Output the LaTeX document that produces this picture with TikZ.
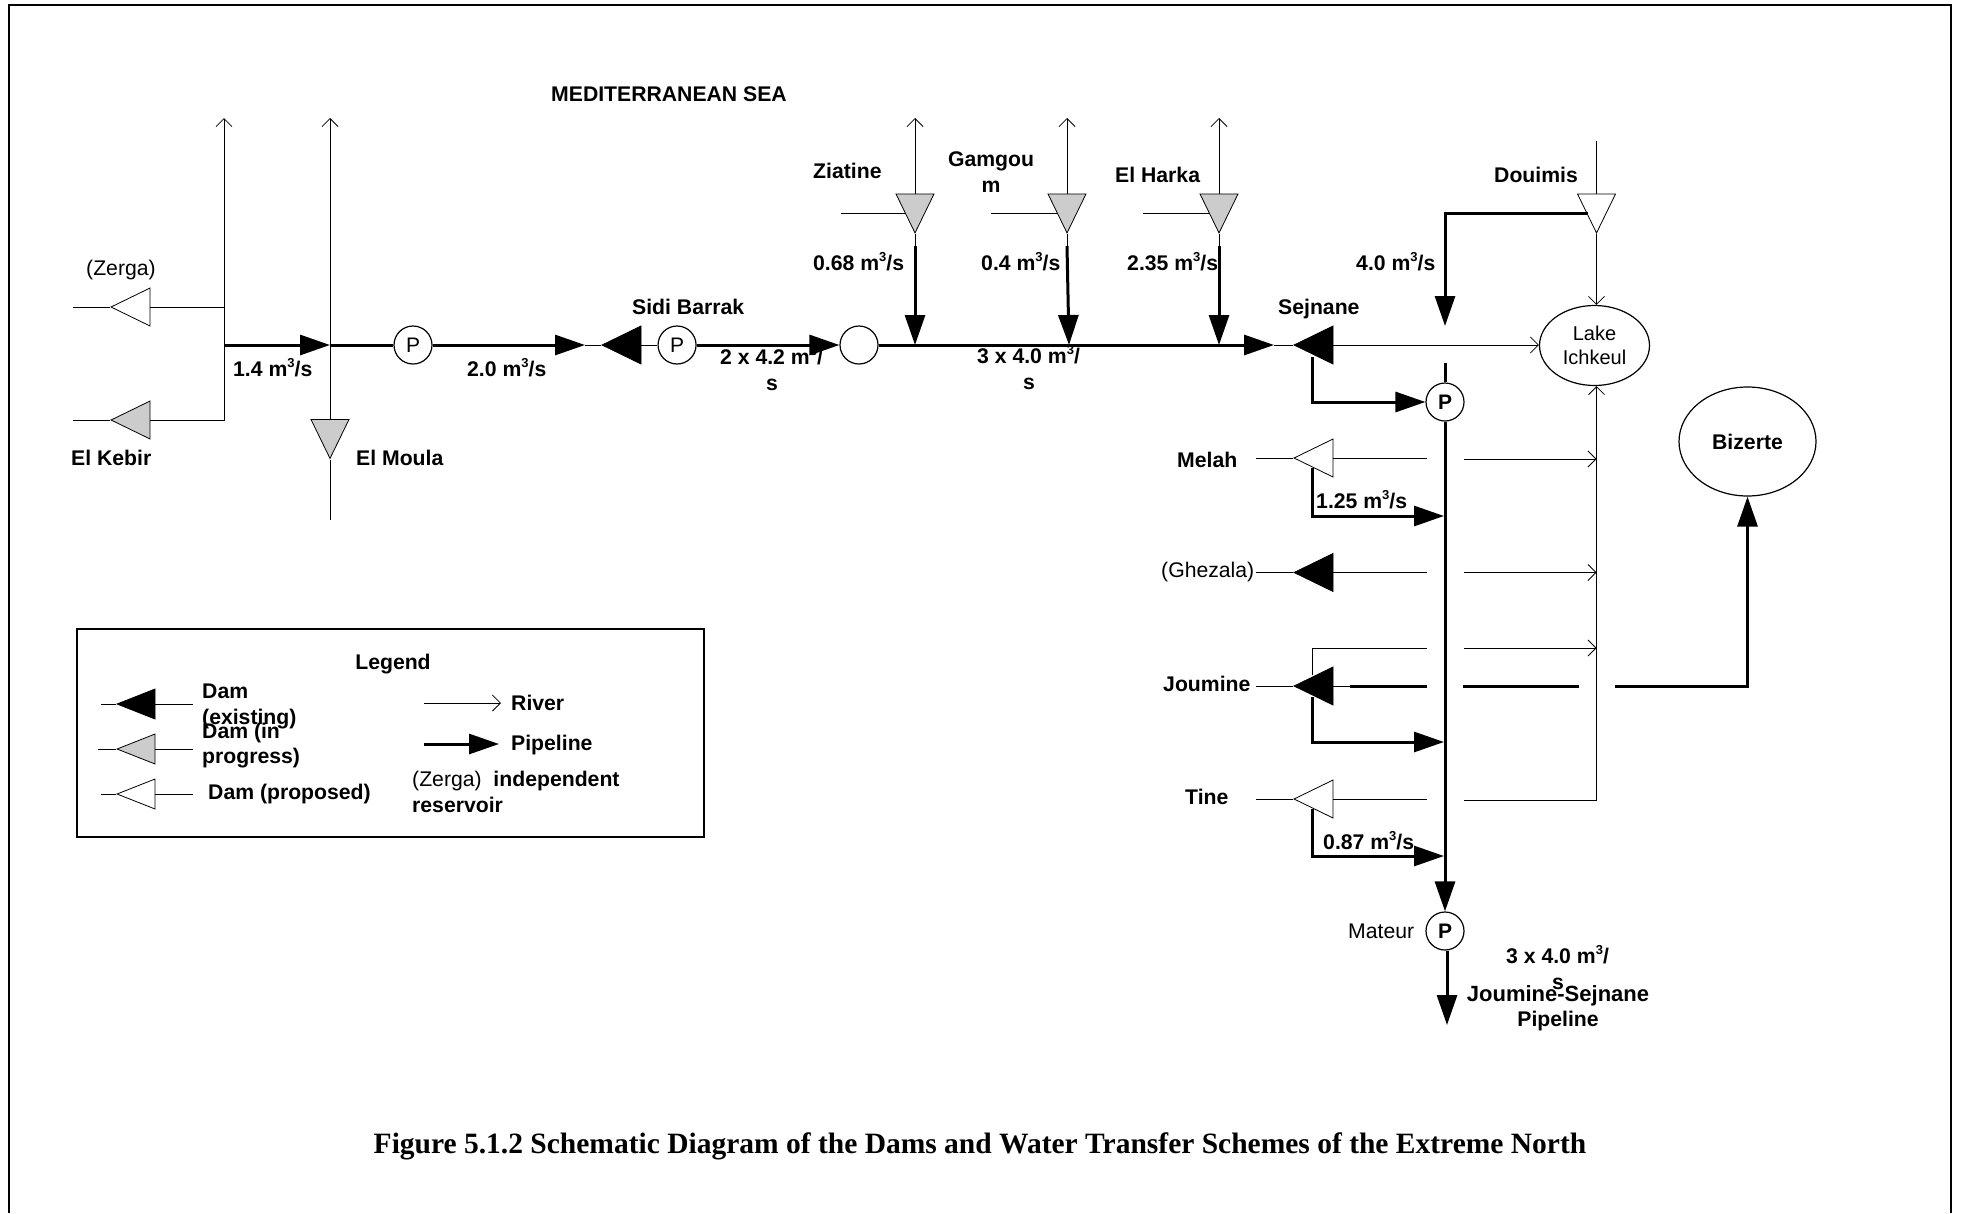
\documentclass[tikz,border=0pt]{standalone}
\usepackage{fontspec}
\setmainfont{Liberation Sans}
\newfontfamily\capfont{Liberation Serif}
\usetikzlibrary{shapes.geometric, arrows.meta, positioning}
\newcommand{\cube}{\raisebox{0.42em}{\fontsize{13}{13}\selectfont 3}}
\begin{document}
\begin{tikzpicture}[x=1pt, y=-1pt,
    dam/.style={isosceles triangle, isosceles triangle stretches, draw, line width=0.8pt, minimum height=39pt, minimum width=38pt, inner sep=0pt, shape border rotate=180, anchor=apex},
    damdown/.style={dam, shape border rotate=270},
    pump/.style={circle, draw, line width=1.2pt, fill=white, minimum size=38pt, inner sep=0pt, font=\fontsize{21}{26}\selectfont},
    tag/.style={inner sep=0pt, font=\fontsize{21.2}{26}\selectfont\bfseries, text height=15pt, text depth=0pt},
    tagline/.style={inner sep=0pt, font=\fontsize{21.2}{26}\selectfont, text height=15pt, text depth=0pt},
    river/.style={line width=0.8pt, -{Straight Barb[length=8pt,width=16pt]}},
    brook/.style={line width=0.8pt},
    pipe/.style={line width=3pt, -{Triangle[length=30pt,width=20pt]}},
    main/.style={line width=3pt}]
    \useasboundingbox (0,0) rectangle (1961,1213);
    \draw[line width=1.6pt] (9,1213) -- (9,5) -- (1951,5) -- (1951,1213);

    % west branch
    \node[dam, fill=white] (zerga) at (110,307) {};
    \node[dam, fill=black!20] (kebir) at (110,420) {};
    \node[damdown, fill=black!20] (moula) at (330,459.5) {};
    \node[pump] (pumpa) at (413,345) {P};
    \node[dam, fill=black] (sidi) at (601,345) {};
    \node[pump, right=16pt of sidi] (pumpsidi) {P};
    \node[pump] (junction) at (859,345) {};
    \coordinate (zergaw) at (73,307);
    \coordinate (zergae) at (224,307);
    \coordinate (kebirw) at (73,420);
    \coordinate (sea) at (224,118);
    \coordinate (seab) at (330,118);
    \coordinate (moulas) at (330,520);
    \coordinate (westa) at (224,345);
    \coordinate (westb) at (330,345);
    \coordinate (westc) at (585,345);
    \draw[brook] (zerga) -- (zergae);
    \draw[brook] (zerga.apex) -- (zergaw);
    \draw[brook] (kebir.apex) -- (kebirw);
    \draw[river] (kebir) -| (sea);
    \draw[river] (moula) -- (seab);
    \draw[brook] (moula.apex) -- (moulas);
    \draw[pipe] (westa) -- (westb);
    \draw[main] (westb) -- (pumpa);
    \draw[pipe] (pumpa) -- (westc);
    \draw[brook] (westc) -- (sidi.apex);
    \draw[brook] (sidi) -- (pumpsidi);
    \draw[pipe] (pumpsidi) -- (junction);

    % north tributaries
    \node[damdown, fill=black!20] (ziatine) at (915,234) {};
    \node[damdown, fill=black!20] (gamgoum) at (1067,234) {};
    \node[damdown, fill=black!20] (harka) at (1219,234) {};
    \node[damdown, fill=white] (douimis) at (1596.5,234) {};
    \node[dam, fill=black] (sejnane) at (1293,345) {};
    \node[ellipse, draw, line width=1.2pt, minimum width=110pt, minimum height=80pt, inner sep=0pt, align=center, font=\fontsize{20}{24}\selectfont] (lake) at (1594.5,345.5) {Lake\\Ichkeul};
    \node[ellipse, draw, line width=1.2pt, minimum width=137pt, minimum height=109pt, inner sep=0pt, font=\fontsize{21.2}{26}\selectfont\bfseries] (bizerte) at (1747.5,441.5) {Bizerte};
    \foreach \dam/\xw/\xt/\xb in {ziatine/841/915/915, gamgoum/991/1067/1069, harka/1143/1219/1219} {
        \coordinate (\dam w) at (\xw,213);
        \coordinate (\dam t) at (\xt,118);
        \coordinate (\dam a) at (\xt,246);
        \coordinate (\dam b) at (\xb,345);
        \draw[brook] (\dam w) -- ([xshift=-10pt]\dam.apex |- \dam w);
        \draw[river] (\dam) -- (\dam t);
        \draw[brook] (\dam.apex) -- (\dam a);
        \draw[pipe] (\dam a) -- (\dam b);
    }
    \coordinate (northa) at (1274,345);
    \coordinate (douimist) at (1596.5,141);
    \coordinate (douimisw) at (1588,213);
    \coordinate (douimisb) at (1445,326);
    \draw[pipe] (junction) -- (northa);
    \draw[brook] (northa) -- (sejnane.apex);
    \draw[river] (sejnane) -- (sejnane -| lake.west);
    \draw[brook] (douimist) -- (douimis);
    \draw[river] (douimis.apex) -- (douimis.apex |- lake.north);
    \draw[pipe] (douimisw) -| (douimisb);

    % main pipeline and eastern dams
    \node[pump, font=\fontsize{21}{26}\selectfont\bfseries] (pumpb) at (1445,402) {P};
    \node[pump, font=\fontsize{21}{26}\selectfont\bfseries] (mateur) at (1445,931) {P};
    \node[dam, fill=white] (melah) at (1293,458) {};
    \node[dam, fill=black] (ghezala) at (1293,572.5) {};
    \node[dam, fill=black] (joumine) at (1293,686) {};
    \node[dam, fill=white] (tine) at (1293,799) {};
    \coordinate (stub) at (1445,363);
    \coordinate (outlet) at (1447,1025);
    \coordinate (sejnanes) at (1312.5,357);
    \coordinate (melahs) at (1312.5,468);
    \coordinate (melahb) at (1444,516);
    \coordinate (jouminep) at (1312.5,697);
    \coordinate (jouminepb) at (1444,742);
    \coordinate (tines) at (1312.5,809);
    \coordinate (tineb) at (1444,856);
    \draw[main] (stub) -- (pumpb);
    \draw[pipe] (pumpb) -- (mateur);
    \draw[pipe] (mateur.south -| outlet) -- (outlet);
    \draw[pipe] (sejnanes) |- (pumpb);
    \draw[pipe] (melahs) |- (melahb);
    \draw[pipe] (jouminep) |- (jouminepb);
    \draw[pipe] (tines) |- (tineb);
    \foreach \dam/\yy/\yr in {melah/458/459, ghezala/572.5/572.5} {
        \coordinate (\dam w) at (1256,\yy);
        \coordinate (\dam e) at (1427,\yy);
        \coordinate (\dam f) at (1464,\yr);
        \coordinate (\dam r) at (1596.5,\yr);
        \draw[brook] (\dam w) -- (\dam.apex);
        \draw[brook] (\dam) -- (\dam e);
        \draw[river] (\dam f) -- (\dam r);
    }
    \coordinate (jouminew) at (1256,686);
    \coordinate (jouminea) at (1350,686);
    \coordinate (jomb) at (1427,686);
    \coordinate (jomc) at (1463,686);
    \coordinate (jomd) at (1579,686);
    \coordinate (jome) at (1615,686);
    \coordinate (joma) at (1312.5,675);
    \coordinate (jomf) at (1427,648);
    \coordinate (jomg) at (1464,648);
    \coordinate (jomh) at (1596.5,648);
    \draw[brook] (jouminew) -- (joumine.apex);
    \draw[brook] (joumine) -- (jouminea);
    \draw[main] (jouminea) -- (jomb);
    \draw[main] (jomc) -- (jomd);
    \draw[pipe] (jome) -| (bizerte);
    \draw[brook] (joma) |- (jomf);
    \draw[river] (jomg) -- (jomh);
    \coordinate (tinew) at (1256,799);
    \coordinate (tinee) at (1427,799);
    \coordinate (tinef) at (1464,800);
    \draw[brook] (tinew) -- (tine.apex);
    \draw[brook] (tine) -- (tinee);
    \draw[river] (tinef) -| (douimis.apex |- lake.south);

    % names and flows
    \node[tag, anchor=west] (seaname) at (551,94) {MEDITERRANEAN SEA};
    \node[tagline, anchor=west] (zerganame) at (86,268) {(Zerga)};
    \node[tag, anchor=west] (kebirname) at (71,458) {El Kebir};
    \node[tag, anchor=west] (moulaname) at (356,458) {El Moula};
    \node[tag, anchor=west] (sidiname) at (632,307) {Sidi Barrak};
    \node[tag, anchor=west] (ziatinename) at (813,171) {Ziatine};
    \node[tag] (gamgouname) at (991,159) {Gamgou};
    \node[tag] (gamgouend) at (991,185) {m};
    \node[tag, anchor=west] (harkaname) at (1115,175) {El Harka};
    \node[tag, anchor=west] (douimisname) at (1494,175) {Douimis};
    \node[tag, anchor=west] (sejnanename) at (1278,307) {Sejnane};
    \node[tag, anchor=west] (melahname) at (1177,460) {Melah};
    \node[tagline, anchor=west] (ghezalaname) at (1161,570) {(Ghezala)};
    \node[tag, anchor=west] (joumineame) at (1163,684) {Joumine};
    \node[tag, anchor=west] (tinename) at (1185,797) {Tine};
    \node[tagline, left=11pt of mateur] (mateurname) {Mateur};
    \node[tag, anchor=west] (flowa) at (233,369) {1.4 m\cube/s};
    \node[tag, anchor=west] (flowb) at (467,369) {2.0 m\cube/s};
    \node[tag, anchor=west] (flowc) at (720,357) {2 x 4.2 m\cube/};
    \node[tag] (flowcend) at (772,383) {s};
    \node[tag, anchor=west] (flowd) at (813,263) {0.68 m\cube/s};
    \node[tag, anchor=west] (flowe) at (981,263) {0.4 m\cube/s};
    \node[tag, anchor=west] (flowf) at (1127,263) {2.35 m\cube/s};
    \node[tag, anchor=west] (flowg) at (1356,263) {4.0 m\cube/s};
    \node[tag, anchor=west] (flowh) at (977,356) {3 x 4.0 m\cube/};
    \node[tag] (flowhend) at (1029,382) {s};
    \node[tag, anchor=west] (flowi) at (1316,501) {1.25 m\cube/s};
    \node[tag, anchor=west] (flowj) at (1323,842) {0.87 m\cube/s};
    \node[tag, anchor=west] (flowk) at (1506,956) {3 x 4.0 m\cube/};
    \node[tag] (flowkend) at (1558,982) {s};
    \node[tag, font=\fontsize{22}{26}\selectfont\bfseries] (pipename) at (1558,994) {Joumine-Sejnane};
    \node[tag] (pipenameb) at (1558,1019) {Pipeline};

    % legend
    \node[draw, line width=1.6pt, minimum width=627pt, minimum height=208pt, inner sep=0pt, anchor=north west] (legend) at (76,628) {};
    \node[tag] (legendname) at (393,662) {Legend};
    \node[dam, fill=black, minimum height=38pt, minimum width=30pt] (legexist) at (116,704) {};
    \node[dam, fill=black!20, minimum height=38pt, minimum width=30pt] (legwork) at (116,749) {};
    \node[dam, fill=white, minimum height=38pt, minimum width=30pt] (legplan) at (116,794) {};
    \coordinate (legexistw) at (101,704);
    \coordinate (legexiste) at (193,704);
    \coordinate (legworkw) at (98,749);
    \coordinate (legworke) at (193,749);
    \coordinate (legplanw) at (101,794);
    \coordinate (legplane) at (193,794);
    \coordinate (legrivera) at (424,703);
    \coordinate (legriverb) at (501,703);
    \coordinate (legpipea) at (424,744);
    \coordinate (legpipeb) at (499,744);
    \draw[brook] (legexistw) -- (legexist.apex);
    \draw[brook] (legexist) -- (legexiste);
    \draw[brook] (legworkw) -- (legwork.apex);
    \draw[brook] (legwork) -- (legworke);
    \draw[brook] (legplanw) -- (legplan.apex);
    \draw[brook] (legplan) -- (legplane);
    \draw[river] (legrivera) -- (legriverb);
    \draw[pipe] (legpipea) -- (legpipeb);
    \node[tag, anchor=west] (legexisttext) at (202,691) {Dam};
    \node[tag, anchor=west] (legexistend) at (202,717) {(existing)};
    \node[tag, anchor=west] (legworktext) at (202,731) {Dam (in};
    \node[tag, anchor=west] (legworkend) at (202,756) {progress)};
    \node[tag, anchor=west] (legplantext) at (208,792) {Dam (proposed)};
    \node[tag, anchor=west] (legrivertext) at (511,703) {River};
    \node[tag, anchor=west] (legpipetext) at (511,743) {Pipeline};
    \node[tag, anchor=west] (legnote) at (412,779) {\mdseries(Zerga)\ \ \bfseries independent};
    \node[tag, anchor=west] (legnoteend) at (412,805) {reservoir};

    \node[inner sep=0pt, font=\capfont\fontsize{29.5}{34}\selectfont\bfseries] (caption) at (980,1146) {Figure 5.1.2 Schematic Diagram of the Dams and Water Transfer Schemes of the Extreme North};
\end{tikzpicture}
\end{document}
